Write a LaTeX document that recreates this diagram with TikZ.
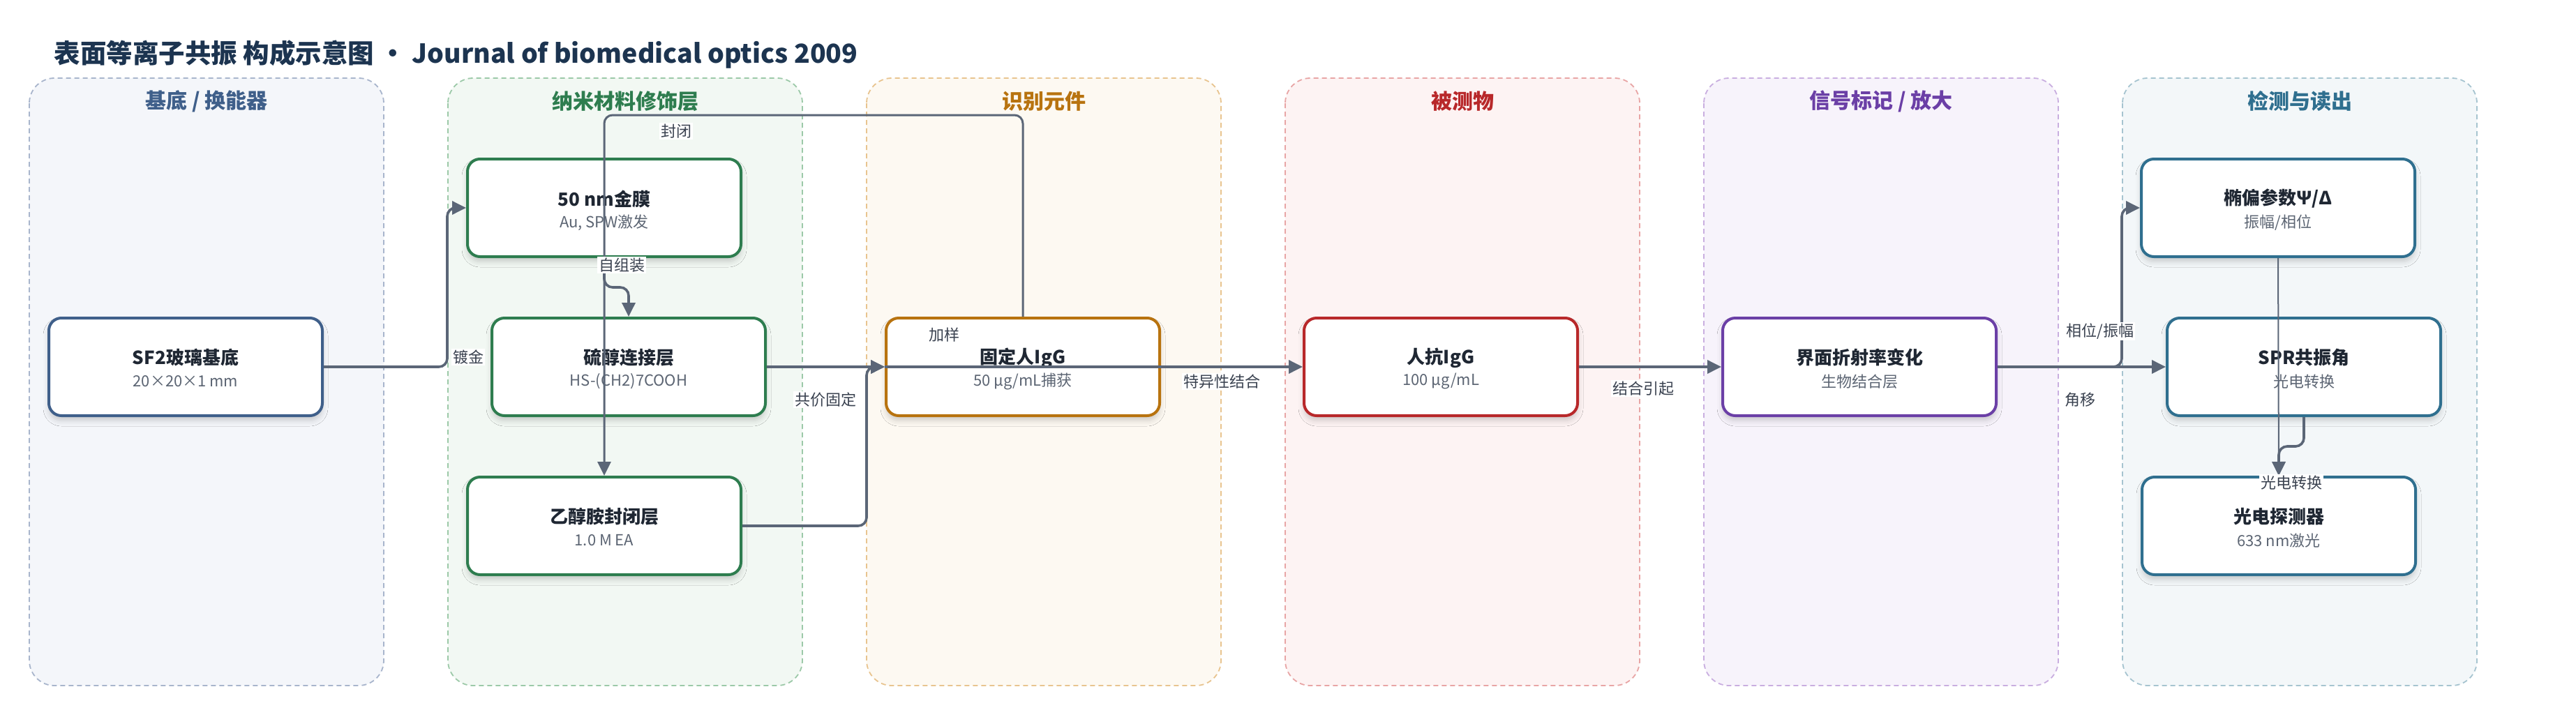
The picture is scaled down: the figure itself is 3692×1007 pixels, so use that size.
\documentclass[tikz,border=0pt]{standalone}
\usepackage{fontspec}
\setmainfont{Noto Sans CJK SC}
\usetikzlibrary{arrows.meta,shadows.blur}
\definecolor{edgec}{HTML}{5B6677}
\definecolor{ttlc}{HTML}{1C3450}
\definecolor{txtc}{HTML}{1F2733}
\definecolor{subc}{HTML}{5C6573}
\definecolor{lblc}{HTML}{3A4250}
\definecolor{cA}{HTML}{3F5F8A}\definecolor{fA}{HTML}{F4F6FA}\definecolor{bA}{HTML}{A8B5CC}
\definecolor{cB}{HTML}{2E7D4F}\definecolor{fB}{HTML}{F2F8F3}\definecolor{bB}{HTML}{9CC9A8}
\definecolor{cC}{HTML}{B8730F}\definecolor{fC}{HTML}{FDF9F2}\definecolor{bC}{HTML}{E8C48F}
\definecolor{cD}{HTML}{B8282A}\definecolor{fD}{HTML}{FDF3F3}\definecolor{bD}{HTML}{E8A5A5}
\definecolor{cE}{HTML}{6B3FA6}\definecolor{fE}{HTML}{F7F3FB}\definecolor{bE}{HTML}{C9AEE0}
\definecolor{cF}{HTML}{2F6F8F}\definecolor{fF}{HTML}{F3F7F9}\definecolor{bF}{HTML}{A6C4D0}
\tikzset{
  lanebox/.style={line width=1.8pt, dash pattern=on 7pt off 5pt, rounded corners=36pt},
  lanetitle/.style={font=\fontsize{30}{34}\selectfont\bfseries, anchor=center},
  nbox/.style={rectangle, rounded corners=18pt, line width=4pt, fill=white,
     minimum width=392pt, minimum height=140pt, inner sep=0pt,
     blur shadow={shadow xshift=0pt, shadow yshift=-7pt, shadow blur radius=8pt, shadow opacity=18}},
  ntitle/.style={font=\fontsize{26}{30}\selectfont\bfseries, text=txtc},
  nsub/.style={font=\fontsize{22}{26}\selectfont, text=subc},
  edge/.style={draw=edgec, line width=3.6pt, rounded corners=12pt, -{Triangle[length=20pt,width=19pt]}},
  lbl/.style={fill=white, inner sep=2pt, text=lblc, font=\fontsize{22}{26}\selectfont},
}
\newcommand\mybox[6]{%
  \node[nbox, draw=#4] (#1) at (#2,#3) {};
  \node[ntitle] (#1-t) at (#2,#3-13) {#5};
  \node[nsub] (#1-s) at (#2,#3+21) {#6};
}
\begin{document}
\begin{tikzpicture}[x=1pt,y=-1pt]
\useasboundingbox[fill=white] (0,0) rectangle (3692,1007);
% title
\node[anchor=west, text=ttlc, font=\fontsize{37.5}{42}\selectfont\bfseries] (title) at (74,78)
  {表面等离子共振 构成示意图 • Journal of biomedical optics 2009};
% lanes
\draw[lanebox, draw=bA, fill=fA] (42,112) rectangle (550,983);
\draw[lanebox, draw=bB, fill=fB] (642,112) rectangle (1150,983);
\draw[lanebox, draw=bC, fill=fC] (1242,112) rectangle (1750,983);
\draw[lanebox, draw=bD, fill=fD] (1842,112) rectangle (2350,983);
\draw[lanebox, draw=bE, fill=fE] (2442,112) rectangle (2950,983);
\draw[lanebox, draw=bF, fill=fF] (3042,112) rectangle (3550,983);
\node[lanetitle, text=cA] (lt1) at (296,145) {基底 / 换能器};
\node[lanetitle, text=cB] (lt2) at (896,145) {纳米材料修饰层};
\node[lanetitle, text=cC] (lt3) at (1496,145) {识别元件};
\node[lanetitle, text=cD] (lt4) at (2096,145) {被测物};
\node[lanetitle, text=cE] (lt5) at (2696,145) {信号标记 / 放大};
\node[lanetitle, text=cF] (lt6) at (3296,145) {检测与读出};
% nodes
\mybox{sf2}{266}{526}{cA}{SF2玻璃基底}{20×20×1 mm}
\mybox{gold}{866}{298}{cB}{50 nm金膜}{Au, SPW激发}
\mybox{thiol}{901}{526}{cB}{硫醇连接层}{HS-(CH2)7COOH}
\mybox{ea}{866}{754}{cB}{乙醇胺封闭层}{1.0 M EA}
\mybox{fixed}{1466}{526}{cC}{固定人IgG}{50 µg/mL捕获}
\mybox{anti}{2065}{526}{cD}{人抗IgG}{100 µg/mL}
\mybox{ri}{2665}{526}{cE}{界面折射率变化}{生物结合层}
\mybox{ellip}{3265}{298}{cF}{椭偏参数Ψ/Δ}{振幅/相位}
\mybox{spr}{3302}{526}{cF}{SPR共振角}{光电转换}
\mybox{pd}{3266}{754}{cF}{光电探测器}{633 nm激光}
% edges
\draw[edge] (sf2.east) -- (641,526) |- (gold.west);
\draw[edge] (gold.south) -- (866,412) -| (thiol.north);
\draw[edge, line width=3pt] (fixed.north) -- (1466,165) -| (ea.north);
\draw[edge] (thiol.east) -- (fixed.west);
\draw[edge] (ea.east) -- (1242,754) |- (fixed.west);
\draw[edge] (fixed.west) -- (anti.west);
\draw[edge] (anti.east) -- (ri.west);
\draw[edge] (ri.east) -- (spr.west);
\draw[edge] (ri.east) -- (3041,526) |- (ellip.west);
\draw[edge, line width=2pt] (ellip.south) -- (pd.north);
\draw[edge] (spr.south) -- (3302,640) -| (pd.north);
% labels
\node[lbl] (l1) at (671,512) {镀金};
\node[lbl] (l2) at (891,380) {自组装};
\node[lbl] (l3) at (969,188) {封闭};
\node[lbl] (l4) at (1183,573) {共价固定};
\node[lbl, fill=none] (l5) at (1353,480) {加样};
\node[lbl] (l6) at (1751,547) {特异性结合};
\node[lbl] (l7) at (2355,557) {结合引起};
\node[lbl] (l8) at (3010,475) {相位/振幅};
\node[lbl] (l9) at (2981,573) {角移};
\node[lbl] (l10) at (3284,692) {光电转换};
\end{tikzpicture}
\end{document}
